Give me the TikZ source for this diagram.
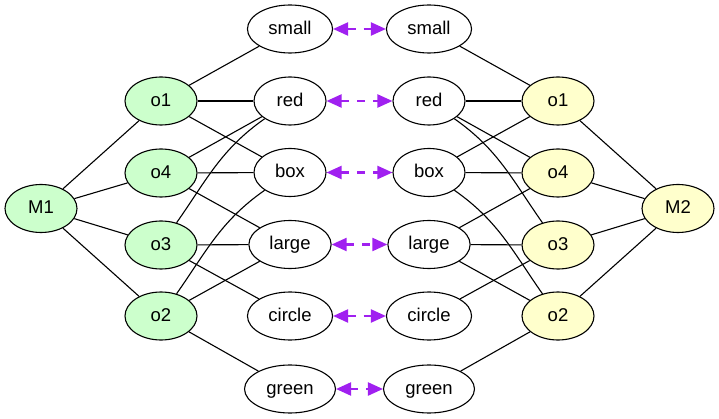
\documentclass[tikz,border=0pt]{standalone}
\usepackage{fontspec}
\setmainfont{Liberation Sans}
\usetikzlibrary{arrows.meta,shapes.geometric}
\definecolor{mgreen}{RGB}{204,255,204}
\definecolor{myellow}{RGB}{255,255,204}
\definecolor{linkpurple}{RGB}{160,32,240}
\tikzset{
  ov/.style={ellipse, draw=black, line width=1.1pt, fill=white,
    minimum width=72pt, minimum height=48pt, inner xsep=8.5pt, inner ysep=0pt,
    text height=14pt, text depth=3.4pt,
    font=\fontsize{18.5}{20}\selectfont},
  lnode/.style={ov, fill=mgreen},
  rnode/.style={ov, fill=myellow},
  edge/.style={line width=1.1pt, black},
  link/.style={line width=2.2pt, linkpurple, dash pattern=on 8pt off 8pt,
    {Triangle[length=15pt,width=13pt]}-{Triangle[length=15pt,width=13pt]}},
}
\begin{document}
\begin{tikzpicture}[x=1pt,y=-1pt]
\useasboundingbox (0,0) rectangle (719,419);

% left model
\node[lnode] (M1) at (41,208.5) {M1};
\node[lnode] (lo1) at (161,101) {o1};
\node[lnode] (lo4) at (161,173) {o4};
\node[lnode] (lo3) at (161,245) {o3};
\node[lnode] (lo2) at (161,316) {o2};

\node[ov] (lsmall) at (290,29) {small};
\node[ov] (lred) at (290,101) {red};
\node[ov] (lbox) at (290,172.5) {box};
\node[ov] (llarge) at (290,244.5) {large};
\node[ov] (lcircle) at (290,316) {circle};
\node[ov] (lgreen) at (290,389) {green};

% right model
\node[rnode] (M2) at (678,208.5) {M2};
\node[rnode] (ro1) at (558,101) {o1};
\node[rnode] (ro4) at (558,173) {o4};
\node[rnode] (ro3) at (558,245) {o3};
\node[rnode] (ro2) at (558,316) {o2};

\node[ov] (rsmall) at (429,29) {small};
\node[ov] (rred) at (429,101) {red};
\node[ov] (rbox) at (429,172.5) {box};
\node[ov] (rlarge) at (429,244.5) {large};
\node[ov] (rcircle) at (429,316) {circle};
\node[ov] (rgreen) at (429,389) {green};

% left edges
\draw[edge] (M1) -- (lo1);
\draw[edge] (M1) -- (lo4);
\draw[edge] (M1) -- (lo3);
\draw[edge] (M1) -- (lo2);
\draw[edge] (lo1) -- (lsmall);
\draw[edge] (lo1) -- (lred);
\draw[edge] (lo1) -- (lbox);
\draw[edge] (lo4) -- (lred);
\draw[edge] (lo4) -- (lbox);
\draw[edge] (lo4) -- (llarge);
\draw[edge] (lo3) to[out=55,in=215] (lred);
\draw[edge] (lo3) -- (llarge);
\draw[edge] (lo3) -- (lcircle);
\draw[edge] (lo2) to[out=55,in=215] (lbox);
\draw[edge] (lo2) -- (llarge);
\draw[edge] (lo2) -- (lgreen);

% right edges
\draw[edge] (M2) -- (ro1);
\draw[edge] (M2) -- (ro4);
\draw[edge] (M2) -- (ro3);
\draw[edge] (M2) -- (ro2);
\draw[edge] (ro1) -- (rsmall);
\draw[edge] (ro1) -- (rred);
\draw[edge] (ro1) -- (rbox);
\draw[edge] (ro4) -- (rred);
\draw[edge] (ro4) -- (rbox);
\draw[edge] (ro4) -- (rlarge);
\draw[edge] (rred) to[out=325,in=125] (ro3);
\draw[edge] (ro3) -- (rlarge);
\draw[edge] (ro3) -- (rcircle);
\draw[edge] (rbox) to[out=325,in=125] (ro2);
\draw[edge] (ro2) -- (rlarge);
\draw[edge] (ro2) -- (rgreen);

% correspondences
\draw[link] (lsmall) -- (rsmall);
\draw[link] (lred) -- (rred);
\draw[link] (lbox) -- (rbox);
\draw[link] (llarge) -- (rlarge);
\draw[link] (lcircle) -- (rcircle);
\draw[link] (lgreen) -- (rgreen);
\end{tikzpicture}
\end{document}
